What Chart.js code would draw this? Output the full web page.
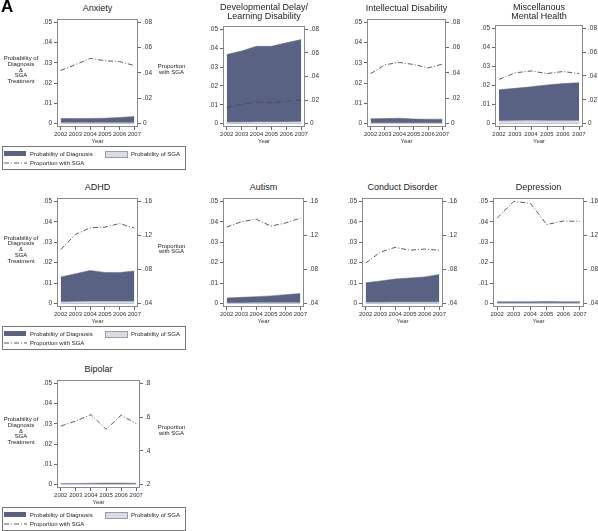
<!DOCTYPE html>
<html>
<head>
<meta charset="utf-8">
<script src="https://cdn.jsdelivr.net/npm/chart.js@4.4.1/dist/chart.umd.min.js"></script>
<style>
  body { margin: 0; width: 598px; height: 531px; position: relative; overflow: hidden; background: #fff;
         font-family: 'Liberation Sans', Arial, sans-serif; color: #222; }
  canvas { position: absolute; }
  .ttl { position: absolute; font-size: 9px; line-height: 9px; text-align: center; white-space: nowrap; transform: translateX(-50%); }
  .axt { position: absolute; font-size: 6px; line-height: 5.8px; text-align: center; white-space: nowrap; transform: translate(-50%, -50%); }
  .leg { position: absolute; left: 2px; width: 182px; height: 22px; border: 1px solid #777; font-size: 6px; }
  .leg div, .leg span, .leg svg { position: absolute; }
  .leg span { line-height: 6px; white-space: nowrap; }
</style>
</head>
<body>
<script>
const years = [2002, 2003, 2004, 2005, 2006, 2007];
const leftTicks = [0, 0.01, 0.02, 0.03, 0.04, 0.05];
const rightTicks1 = [0, 0.02, 0.04, 0.06, 0.08];
const rightTicks2 = [0.04, 0.08, 0.12, 0.16];
const rightTicks3 = [0.2, 0.4, 0.6, 0.8];

// probability of diagnosis / probability of SGA / proportion with SGA
const anxDiag = [0.0024, 0.0025, 0.0025, 0.0026, 0.0030, 0.0034];
const anxSga  = [0.0003, 0.0003, 0.0003, 0.0003, 0.0003, 0.0003];
const anxProp = [0.0420, 0.0466, 0.0515, 0.0497, 0.0490, 0.0459];

const devDiag = [0.0366, 0.0385, 0.0410, 0.0410, 0.0428, 0.0445];
const devSga  = [0.0007, 0.0008, 0.0009, 0.0009, 0.0009, 0.0010];
const devProp = [0.0137, 0.0164, 0.0184, 0.0178, 0.0190, 0.0200];

const intDiag = [0.0023, 0.0024, 0.0026, 0.0022, 0.0021, 0.0021];
const intSga  = [0.0002, 0.0002, 0.0002, 0.0002, 0.0002, 0.0002];
const intProp = [0.0394, 0.0465, 0.0483, 0.0467, 0.0440, 0.0470];

const miscDiag = [0.0178, 0.0185, 0.0193, 0.0203, 0.0210, 0.0215];
const miscSga  = [0.0014, 0.0015, 0.0016, 0.0015, 0.0015, 0.0015];
const miscProp = [0.0371, 0.0426, 0.0442, 0.0420, 0.0437, 0.0420];

const adhdDiag = [0.0130, 0.0145, 0.0162, 0.0152, 0.0152, 0.0159];
const adhdSga  = [0.0007, 0.0008, 0.0009, 0.0009, 0.0009, 0.0010];
const adhdProp = [0.1034, 0.1211, 0.1290, 0.1298, 0.1340, 0.1287];

const autDiag = [0.0027, 0.0030, 0.0033, 0.0037, 0.0043, 0.0049];
const autSga  = [0.0002, 0.0002, 0.0003, 0.0003, 0.0003, 0.0003];
const autProp = [0.1298, 0.1362, 0.1392, 0.1310, 0.1347, 0.1404];

const conDiag = [0.0102, 0.0110, 0.0120, 0.0125, 0.0130, 0.0142];
const conSga  = [0.0005, 0.0005, 0.0006, 0.0006, 0.0006, 0.0006];
const conProp = [0.0875, 0.1004, 0.1060, 0.1026, 0.1040, 0.1026];

const depDiag = [0.0008, 0.0008, 0.0008, 0.0009, 0.0008, 0.0008];
const depSga  = [0.0002, 0.0002, 0.0002, 0.0002, 0.0002, 0.0002];
const depProp = [0.1404, 0.1600, 0.1580, 0.1328, 0.1370, 0.1366];

const bipDiag = [0.0005, 0.0005, 0.0006, 0.0007, 0.0007, 0.0006];
const bipSga  = [0.0002, 0.0002, 0.0002, 0.0002, 0.0002, 0.0002];
const bipProp = [0.547, 0.577, 0.615, 0.528, 0.611, 0.562];

const panels = [
  { title: ['Anxiety'], diag: anxDiag, sga: anxSga, prop: anxProp, right: rightTicks1, L: 57, R: 138, T: 15, B: 127, first: true },
  { title: ['Developmental Delay/', 'Learning Disability'], diag: devDiag, sga: devSga, prop: devProp, right: rightTicks1, L: 223, R: 305, T: 22, B: 127 },
  { title: ['Intellectual Disability'], diag: intDiag, sga: intSga, prop: intProp, right: rightTicks1, L: 367, R: 446, T: 15, B: 127 },
  { title: ['Miscellanous', 'Mental Health'], diag: miscDiag, sga: miscSga, prop: miscProp, right: rightTicks1, L: 495, R: 583, T: 21, B: 127 },
  { title: ['ADHD'], diag: adhdDiag, sga: adhdSga, prop: adhdProp, right: rightTicks2, L: 57, R: 138, T: 194, B: 307, first: true },
  { title: ['Autism'], diag: autDiag, sga: autSga, prop: autProp, right: rightTicks2, L: 223, R: 304, T: 194, B: 307 },
  { title: ['Conduct Disorder'], diag: conDiag, sga: conSga, prop: conProp, right: rightTicks2, L: 362, R: 443, T: 194, B: 307 },
  { title: ['Depression'], diag: depDiag, sga: depSga, prop: depProp, right: rightTicks2, L: 493, R: 584, T: 194, B: 307 },
  { title: ['Bipolar'], diag: bipDiag, sga: bipSga, prop: bipProp, right: rightTicks3, L: 57, R: 140, T: 376, B: 488, first: true }
];

Chart.defaults.font.family = "'Liberation Sans', Arial, sans-serif";
Chart.defaults.color = '#333';
Chart.defaults.animation = false;

const DARK = '#5a6283';
const LIGHT = '#d9dbe5';

function fmt(v) {
  if (v === 0) return '0';
  return String(+v.toFixed(3)).replace(/^0\./, '.');
}

const boxPlugin = {
  id: 'box',
  afterDraw(chart) {
    const { ctx, chartArea: a } = chart;
    ctx.save();
    ctx.strokeStyle = '#8a8a8a';
    ctx.lineWidth = 1;
    ctx.strokeRect(Math.round(a.left) + 0.5, Math.round(a.top) + 0.5,
                   Math.round(a.right - a.left) - 1, Math.round(a.bottom - a.top) - 1);
    ctx.restore();
  }
};

function addText(cls, x, y, lines, extra) {
  const d = document.createElement('div');
  d.className = cls;
  d.style.left = x + 'px';
  d.style.top = y + 'px';
  d.innerHTML = lines.join('<br>');
  if (extra) Object.assign(d.style, extra);
  document.body.appendChild(d);
}

function pts(arr) {
  return years.map((x, i) => ({ x, y: arr[i] }));
}

function yAxis(ticks, pos, width) {
  const lo = ticks[0], hi = ticks[ticks.length - 1], m = 0.035 * (hi - lo);
  return {
    type: 'linear', position: pos, min: lo - m, max: hi + m,
    afterBuildTicks: s => { s.ticks = ticks.map(v => ({ value: v })); },
    afterFit: s => { s.width = width; },
    grid: { drawOnChartArea: false, drawTicks: true, tickLength: 3, color: '#666' },
    border: { display: false },
    ticks: { font: { size: 6.5 }, padding: 2, color: '#333', callback: v => fmt(v) }
  };
}

function makePanel(p) {
  const AXW = 24, XH = 18, PAD = 2;
  const c = document.createElement('canvas');
  const w = (p.R - p.L) + 2 * AXW;
  const h = (p.B - p.T) + XH + 2 * PAD;
  c.width = w; c.height = h;
  c.style.left = (p.L - AXW) + 'px';
  c.style.top = (p.T - PAD) + 'px';
  document.body.appendChild(c);

  new Chart(c, {
    type: 'line',
    data: {
      datasets: [
        { label: 'Proportion with SGA', data: pts(p.prop), yAxisID: 'y2', borderColor: '#4a4a4a', borderWidth: 0.9,
          borderDash: [5, 2, 1, 2], fill: false, pointRadius: 0, order: 0 },
        { label: 'Probability of SGA', data: pts(p.sga), yAxisID: 'y', backgroundColor: LIGHT, borderColor: '#c9ccd8',
          borderWidth: 0.5, fill: 'origin', pointRadius: 0, order: 1 },
        { label: 'Probability of Diagnosis', data: pts(p.diag), yAxisID: 'y', backgroundColor: DARK, borderColor: DARK,
          borderWidth: 0.5, fill: 'origin', pointRadius: 0, order: 2 }
      ]
    },
    options: {
      responsive: false,
      devicePixelRatio: 1,
      layout: { padding: { top: PAD, bottom: PAD, left: 0, right: 0 } },
      plugins: { legend: { display: false }, tooltip: { enabled: false } },
      scales: {
        x: {
          type: 'linear', min: 2001.75, max: 2007.25,
          afterBuildTicks: s => { s.ticks = years.map(v => ({ value: v })); },
          afterFit: s => { s.height = XH; },
          grid: { drawOnChartArea: false, drawTicks: true, tickLength: 3, color: '#666' },
          border: { display: false },
          ticks: { font: { size: 6 }, padding: 1, autoSkip: false, maxRotation: 0, color: '#333', callback: v => String(v) },
          title: { display: true, text: 'Year', font: { size: 6 }, padding: { top: 0, bottom: 0 }, color: '#333' }
        },
        y: yAxis(leftTicks, 'left', AXW),
        y2: yAxis(p.right, 'right', AXW)
      }
    },
    plugins: [boxPlugin]
  });

  const cx = (p.L + p.R) / 2;
  const ty = p.title.length === 1 ? p.T - 11.5 : 2.5;
  addText('ttl', cx, ty, p.title);

  if (p.first) {
    const cy = (p.T + p.B) / 2 - 1;
    addText('axt', 21, cy, ['Probability of', 'Diagnosis', '&amp;', 'SGA', 'Treatment']);
    addText('axt', 171.5, cy, ['Proportion', 'with SGA']);
  }
}

panels.forEach(makePanel);

function addLegend(top) {
  const d = document.createElement('div');
  d.className = 'leg';
  d.style.top = top + 'px';
  d.innerHTML =
    '<div style="left:1px;top:4px;width:22px;height:5px;background:' + DARK + '"></div>' +
    '<span style="left:27px;top:4px">Probability of Diagnosis</span>' +
    '<div style="left:102px;top:4px;width:21px;height:4.5px;background:' + LIGHT + ';border:0.5px solid #9a9ca8"></div>' +
    '<span style="left:128px;top:4px">Probability of SGA</span>' +
    '<svg style="left:1px;top:13px" width="23" height="6"><line x1="0" y1="3" x2="23" y2="3" stroke="#4a4a4a" stroke-width="0.9" stroke-dasharray="5 2 1 2"/></svg>' +
    '<span style="left:27px;top:13px">Proportion with SGA</span>';
  document.body.appendChild(d);
}
addLegend(146);
addLegend(326);
addLegend(507);

const A = document.createElement('div');
A.textContent = 'A';
Object.assign(A.style, { position: 'absolute', left: '1px', top: '-3px', fontSize: '17px', fontWeight: 'bold', color: '#000' });
document.body.appendChild(A);
</script>
</body>
</html>
